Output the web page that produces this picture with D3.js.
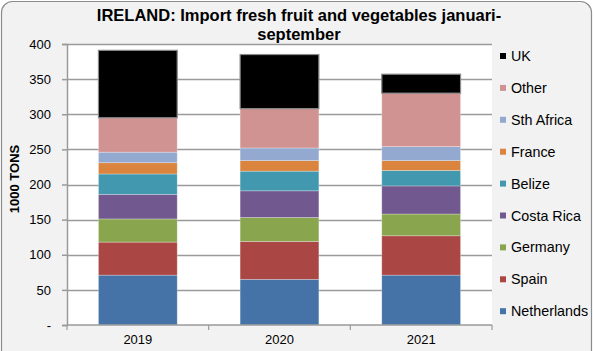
<!DOCTYPE html>
<html><head><meta charset="utf-8">
<script src="https://cdn.jsdelivr.net/npm/d3@7/dist/d3.min.js"></script>
<style>body{margin:0;background:#fff;}svg{display:block;font-family:"Liberation Sans",Arial,sans-serif;}</style>
</head><body><svg id="c" width="595" height="351"></svg>
<script>
const years = ["2019","2020","2021"];
const seriesNames = ["Netherlands","Spain","Germany","Costa Rica","Belize","France","Sth Africa","Other","UK"];
const colors = ["#4572A7","#AA4643","#89A54E","#71588F","#4198AF","#DB843D","#93A9CF","#D19392","#000000"];
const netherlands = [71, 65, 71];
const spain = [47, 54, 56];
const germany = [33, 34, 31];
const costaRica = [35, 38, 40];
const belize = [29, 28, 22];
const france = [16, 15, 14];
const sthAfrica = [15, 18, 20];
const other = [49, 56, 76];
const uk = [96, 77, 27];
const yTicks = [0,50,100,150,200,250,300,350,400];

const seriesValues = [netherlands, spain, germany, costaRica, belize, france, sthAfrica, other, uk];
const rows = years.map((y,i)=>{const r={year:y}; seriesNames.forEach((s,j)=>r[s]=seriesValues[j][i]); return r;});
const stack = d3.stack().keys(seriesNames)(rows);

const svg = d3.select("#c");
// background
svg.append("rect").attr("x",1.5).attr("y",1.5).attr("width",590).attr("height",360).attr("rx",11)
  .attr("fill","#f2f2f2").attr("stroke","#8c8c8c").attr("stroke-width",1.2);

const L=67, R=492, T=44, B=325;
const x = d3.scaleBand().domain(years).range([L,R]).paddingInner(0.444).paddingOuter(0.222);
const y = d3.scaleLinear().domain([0,400]).range([B,T]);

svg.append("rect").attr("x",L).attr("y",T).attr("width",R-L).attr("height",B-T).attr("fill","#fff");

// gridlines
svg.append("g").selectAll("line").data(yTicks.filter(d=>d>0)).join("line")
  .attr("x1",L).attr("x2",R).attr("y1",d=>Math.round(y(d))+0.5).attr("y2",d=>Math.round(y(d))+0.5)
  .attr("stroke","#9a9a9a").attr("stroke-width",1.5);

// bars
const g = svg.append("g");
stack.forEach((layer,j)=>{
  g.selectAll(null).data(layer).join("rect")
    .attr("x",d=>x(d.data.year)).attr("width",x.bandwidth())
    .attr("y",d=>y(d[1])).attr("height",d=>y(d[0])-y(d[1]))
    .attr("fill",colors[j])
    .attr("stroke", seriesNames[j]==="UK" ? "#8a8a8a" : "rgba(255,255,255,0.35)")
    .attr("stroke-width", seriesNames[j]==="UK" ? 1.2 : 0.8);
});

// y axis
const yAxis = d3.axisLeft(y).tickValues(yTicks).tickSize(5).tickPadding(11)
  .tickFormat(d=>d===0?"-":d);
const ya = svg.append("g").attr("transform",`translate(${L},0)`).call(yAxis);
ya.select(".domain").attr("stroke","#9a9a9a").attr("stroke-width",1.5);
ya.selectAll(".tick line").attr("stroke","#9a9a9a").attr("stroke-width",1.5);
ya.selectAll("text").attr("font-size",13).attr("fill","#000").attr("font-family","Liberation Sans, Arial, sans-serif");

// x axis
const xAxis = d3.axisBottom(x).tickSize(0).tickPadding(10);
const xa = svg.append("g").attr("transform",`translate(0,${B})`).call(xAxis);
xa.select(".domain").remove();
svg.append("line").attr("x1",L).attr("x2",R).attr("y1",B).attr("y2",B).attr("stroke","#9a9a9a").attr("stroke-width",1.5);
const bounds = [L, ...years.slice(1).map(d=>x(d)-x.step()*x.paddingInner()/2), R];
svg.append("g").selectAll("line").data(bounds).join("line")
  .attr("x1",d=>d).attr("x2",d=>d).attr("y1",B).attr("y2",B+5).attr("stroke","#9a9a9a").attr("stroke-width",1.2);
xa.selectAll("text").attr("font-size",13).attr("fill","#000").attr("font-family","Liberation Sans, Arial, sans-serif");

// y title
svg.append("text").attr("transform","translate(19,179) rotate(-90)").attr("text-anchor","middle")
  .attr("font-size",13).attr("font-weight","bold").text("1000 TONS");

// title
const title = svg.append("text").attr("text-anchor","middle").attr("font-size",16.5).attr("font-weight","bold");
title.append("tspan").attr("x",299).attr("y",21).text("IRELAND: Import fresh fruit and vegetables januari-");
title.append("tspan").attr("x",299).attr("y",40).text("september");

// legend
const legendOrder = seriesNames.map((s,i)=>({s,c:colors[i]})).reverse();
const lg = svg.append("g");
legendOrder.forEach((d,i)=>{
  const cy = 56 + i*31.9;
  lg.append("rect").attr("x",500).attr("y",cy-3).attr("width",6).attr("height",6).attr("fill",d.c);
  lg.append("text").attr("x",511).attr("y",cy+5).attr("font-size",14.3).text(d.s);
});
</script></body></html>
